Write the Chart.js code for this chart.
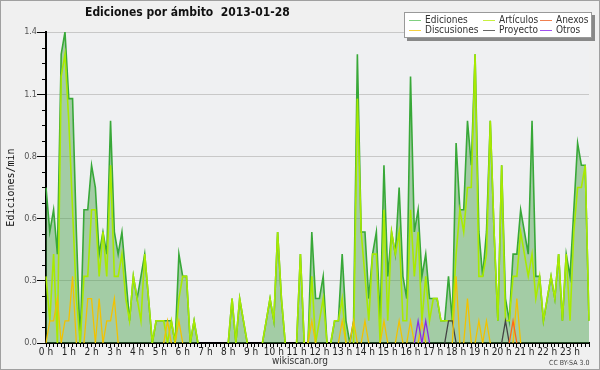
<!DOCTYPE html>
<html>
<head>
<meta charset="utf-8">
<script src="https://cdn.jsdelivr.net/npm/chart.js@4/dist/chart.umd.min.js"></script>
<style>
  html, body { margin:0; padding:0; background:#f0f0f0; }
  #wrap { position:relative; width:600px; height:370px; overflow:hidden; font-family:'DejaVu Sans Condensed','DejaVu Sans',sans-serif; }
  canvas { display:block; }
  .frame { position:absolute; left:0; top:0; width:600px; height:370px; box-sizing:border-box; border:1px solid #a0a0a0; pointer-events:none; }
  #title { position:absolute; left:85px; top:5px; font-weight:bold; font-size:12px; color:#111; white-space:pre; }
  #legend { position:absolute; left:404px; top:12px; width:188px; height:26px; box-sizing:border-box; background:#fff; border:1px solid #999; box-shadow:3px 3px 0 #888; font-size:10px; color:#333; }
  .it { position:absolute; line-height:10px; white-space:nowrap; }
  .it i { position:absolute; top:5px; width:12px; height:0; border-top:1px solid; }
  #site { position:absolute; left:0; width:600px; top:355px; text-align:center; font-size:10px; color:#333; }
  #lic { position:absolute; left:549px; top:359px; font-size:7px; color:#444; }
</style>
</head>
<body>
<div id="wrap">
  <canvas id="c" width="600" height="370"></canvas>
  <div id="title">Ediciones por ámbito  2013-01-28</div>
  <div id="legend"></div>
  <div id="site">wikiscan.org</div>
  <div id="lic">CC BY-SA 3.0</div>
  <div class="frame"></div>
</div>
<script>
// ediciones por minuto, una muestra cada 10 minutos (144 por día)
const hourLabels = ['0 h','1 h','2 h','3 h','4 h','5 h','6 h','7 h','8 h','9 h','10 h','11 h',
  '12 h','13 h','14 h','15 h','16 h','17 h','18 h','19 h','20 h','21 h','22 h','23 h'];

const ediciones = [
  0.7,0.5,0.6,0.4,1.3,1.4,1.1,1.1,0.5,0,0.6,0.6,
  0.8,0.7,0.4,0.5,0.4,1.0,0.5,0.4,0.5,0.3,0.1,0.3,
  0.2,0.3,0.4,0.2,0,0.1,0.1,0.1,0.1,0.1,0,0.4,
  0.3,0.3,0,0.1,0,0,0,0,0,0,0,0,
  0,0.2,0,0.2,0.1,0,0,0,0,0,0.1,0.2,
  0.1,0.5,0.2,0,0,0,0,0.4,0,0,0.5,0.2,
  0.2,0.3,0,0,0.1,0.1,0.4,0.1,0,0.1,1.3,0.5,
  0.5,0.2,0.4,0.5,0.1,0.8,0.3,0.5,0.4,0.7,0.3,0.2,
  1.2,0.5,0.6,0.3,0.4,0.2,0.2,0.2,0.1,0.1,0.3,0.1,
  0.9,0.6,0.6,1.0,0.8,1.3,0.5,0.3,0.5,1.0,0.5,0.1,
  0.8,0.2,0.1,0.4,0.4,0.6,0.5,0.4,1.0,0.3,0.3,0.1,
  0.2,0.3,0.2,0.4,0.1,0.4,0.3,0.6,0.9,0.8,0.8,0.1
];
const articulos = [
  0.3,0.1,0.4,0,1.2,1.3,1.0,0.6,0.2,0,0.3,0.3,
  0.6,0.6,0.3,0.5,0.3,0.8,0.3,0.3,0.4,0.2,0.1,0.3,
  0.2,0.1,0.4,0.2,0,0.1,0.1,0.1,0,0.1,0,0.2,
  0.3,0.3,0,0.1,0,0,0,0,0,0,0,0,
  0,0.2,0,0.2,0.1,0,0,0,0,0,0.1,0.2,
  0.1,0.5,0.2,0,0,0,0,0.4,0,0,0.3,0,
  0.1,0.2,0,0,0.1,0.1,0.2,0,0,0,1.1,0.5,
  0.3,0.1,0.4,0.4,0,0.6,0.1,0.5,0.4,0.5,0.1,0.1,
  0.6,0.3,0.5,0.1,0.3,0.1,0.2,0.2,0.1,0.1,0.1,0.1,
  0.4,0.6,0.5,0.7,0.7,1.3,0.3,0.3,0.4,1.0,0.5,0.1,
  0.8,0.1,0.1,0.3,0.3,0.5,0.4,0.3,0.4,0.2,0.3,0.1,
  0.2,0.3,0.2,0.4,0.1,0.4,0.1,0.5,0.7,0.7,0.8,0.1
];
const discusiones = [
  0,0.1,0.1,0.2,0,0.1,0.1,0.3,0,0,0,0.2,
  0.2,0,0.2,0,0.1,0.1,0.2,0,0,0,0,0,
  0,0,0,0,0,0,0,0,0.1,0,0,0.1,
  0,0,0,0,0,0,0,0,0,0,0,0,
  0,0,0,0,0,0,0,0,0,0,0,0,
  0,0,0,0,0,0,0,0,0,0,0.1,0,
  0,0,0,0,0,0,0.1,0,0,0.1,0,0,
  0.1,0,0,0,0,0.1,0,0,0,0.1,0,0,
  0.1,0,0,0.1,0,0,0,0,0,0,0,0,
  0.3,0,0,0.2,0,0,0.1,0,0.1,0,0,0,
  0,0,0,0,0.2,0,0,0,0,0,0,0,
  0,0,0,0,0,0,0,0,0,0,0,0
];
const anexos = [
  0,0,0,0,0,0,0,0,0,0,0,0, 0,0,0,0,0,0,0,0,0,0,0,0,
  0,0,0,0,0,0,0,0,0,0,0,0, 0,0,0,0,0,0,0,0,0,0,0,0,
  0,0,0,0,0,0,0,0,0,0,0,0, 0,0,0,0,0,0,0,0,0,0,0,0,
  0,0,0,0,0,0,0,0,0,0,0,0, 0,0,0,0,0,0,0,0,0,0,0,0,
  0,0,0,0,0,0,0,0,0,0,0,0, 0,0,0,0,0,0,0,0,0,0,0,0,
  0,0,0,0.1,0,0,0,0,0,0,0,0, 0,0,0,0,0,0,0,0,0,0,0,0
];
const proyecto = [
  0,0,0,0,0,0,0,0,0,0,0,0, 0,0,0,0,0,0,0,0,0,0,0,0,
  0,0,0,0,0,0,0,0,0,0,0,0, 0,0,0,0,0,0,0,0,0,0,0,0,
  0,0,0,0,0,0,0,0,0,0,0,0, 0,0,0,0,0,0,0,0,0,0,0,0,
  0,0,0,0,0,0,0,0,0,0,0,0, 0,0,0,0,0,0,0,0,0,0,0,0,
  0,0,0,0,0,0,0,0,0,0,0.1,0.1, 0,0,0,0,0,0,0,0,0,0,0,0,
  0,0.1,0,0,0,0,0,0,0,0,0,0, 0,0,0,0,0,0,0,0,0,0,0,0
];
const otros = [
  0,0,0,0,0,0,0,0,0,0,0,0, 0,0,0,0,0,0,0,0,0,0,0,0,
  0,0,0,0,0,0,0,0,0,0,0,0, 0,0,0,0,0,0,0,0,0,0,0,0,
  0,0,0,0,0,0,0,0,0,0,0,0, 0,0,0,0,0,0,0,0,0,0,0,0,
  0,0,0,0,0,0,0,0,0,0,0,0, 0,0,0,0,0,0,0,0,0,0,0,0,
  0,0,0.1,0,0.1,0,0,0,0,0,0,0, 0,0,0,0,0,0,0,0,0,0,0,0,
  0,0,0,0,0,0,0,0,0,0,0,0, 0,0,0,0,0,0,0,0,0,0,0,0
];

const yTicks = [0, 0.28, 0.56, 0.84, 1.12, 1.4];
const yTickLabels = ['0.0', '0.3', '0.6', '0.8', '1.1', '1.4'];

// una etiqueta por hora, vacía en los demás intervalos de 10 minutos
const slotLabels = [];
hourLabels.forEach(h => { slotLabels.push(h, '', '', '', '', ''); });

const series = [
  { label:'Ediciones',   data:ediciones,   color:'#38a838', key:'#80d080', order:6 },
  { label:'Artículos',   data:articulos,   color:'#a8ea00', key:'#c8f040', order:5 },
  { label:'Anexos',      data:anexos,      color:'#ff6818', key:'#f08050', order:2 },
  { label:'Discusiones', data:discusiones, color:'#f2c200', key:'#f5d040', order:3 },
  { label:'Proyecto',    data:proyecto,    color:'#444444', key:'#666666', order:4 },
  { label:'Otros',       data:otros,       color:'#8a2be2', key:'#a050f0', order:1 }
];

// leyenda en HTML: tres columnas, dos filas
const legendPos = [[4, 2], [78, 2], [135, 2], [4, 12], [78, 12], [135, 12]];
const legendOrder = ['Ediciones', 'Artículos', 'Anexos', 'Discusiones', 'Proyecto', 'Otros'];
const legendEl = document.getElementById('legend');
legendOrder.forEach((name, k) => {
  const s = series.find(d => d.label === name);
  const el = document.createElement('div');
  el.className = 'it';
  el.style.left = legendPos[k][0] + 'px';
  el.style.top = legendPos[k][1] + 'px';
  el.innerHTML = '<i style="left:0;border-color:' + s.key + '"></i><span style="margin-left:16px">' + name + '</span>';
  legendEl.appendChild(el);
});

const FONT = "'DejaVu Sans Condensed', 'DejaVu Sans', sans-serif";

const plotBg = {
  id: 'plotBg',
  beforeDraw(chart) {
    const { ctx, chartArea: a } = chart;
    ctx.save();
    ctx.fillStyle = '#f0f0f0';
    ctx.fillRect(0, 0, chart.width, chart.height);
    ctx.fillStyle = '#eff0f2';
    ctx.fillRect(a.left, a.top, a.right - a.left, a.bottom - a.top);
    ctx.restore();
  },
  afterDraw(chart) {
    // marcas menores del eje y
    const { ctx } = chart;
    const y = chart.scales.y;
    ctx.save();
    ctx.strokeStyle = '#000';
    ctx.lineWidth = 1;
    for (let k = 1; k < 20; k++) {
      if (k % 4 === 0) continue;
      const py = Math.round(y.getPixelForValue(k * 0.07)) + 0.5;
      ctx.beginPath();
      ctx.moveTo(y.right - 4, py);
      ctx.lineTo(y.right, py);
      ctx.stroke();
    }
    ctx.restore();
  }
};

// tramos que quedan sobre el eje (0 → 0) no se ven en el original
const flatZero = c => (c.p0.parsed.y === 0 && c.p1.parsed.y === 0) ? 'transparent' : undefined;

new Chart(document.getElementById('c'), {
  type: 'line',
  data: {
    labels: slotLabels,
    datasets: series.map((s, k) => ({
      label: s.label,
      data: s.data,
      borderColor: s.color,
      borderWidth: k < 2 ? 1.6 : 1.3,
      backgroundColor: k === 0 ? 'rgba(70,160,70,0.45)' : 'transparent',
      fill: k === 0 ? 'origin' : false,
      pointRadius: 0,
      tension: 0,
      segment: { borderColor: flatZero },
      order: s.order
    }))
  },
  options: {
    responsive: false,
    animation: false,
    layout: { padding: { left: 0, right: 11, top: 32, bottom: 0 } },
    plugins: { legend: { display: false }, tooltip: { enabled: false } },
    scales: {
      x: {
        type: 'category',
        offset: false,
        z: 1,
        grid: { drawOnChartArea: false, tickLength: 4, tickColor: '#000' },
        border: { color: '#000', width: 2 },
        ticks: { autoSkip: false, maxRotation: 0, minRotation: 0, padding: -1, color: '#222',
                 font: { family: FONT, size: 10 }, callback: (v, i) => slotLabels[i] },
        afterFit(s) { s.height = 27; }
      },
      y: {
        min: 0,
        max: 1.4,
        afterBuildTicks(s) { s.ticks = yTicks.map(v => ({ value: v })); },
        grid: { color: '#c8c8c8', tickColor: '#000', tickLength: 9 },
        border: { color: '#000', width: 2 },
        ticks: { padding: 0, color: '#555', font: { family: FONT, size: 9 },
                 callback: (v, i) => yTickLabels[i] },
        title: { display: true, text: 'Ediciones/min', color: '#111',
                 font: { family: "'DejaVu Sans Mono', monospace", size: 10 }, padding: { top: 5, bottom: 0 } },
        afterFit(s) { s.width = 46; }
      }
    }
  },
  plugins: [plotBg]
});
</script>
</body>
</html>
